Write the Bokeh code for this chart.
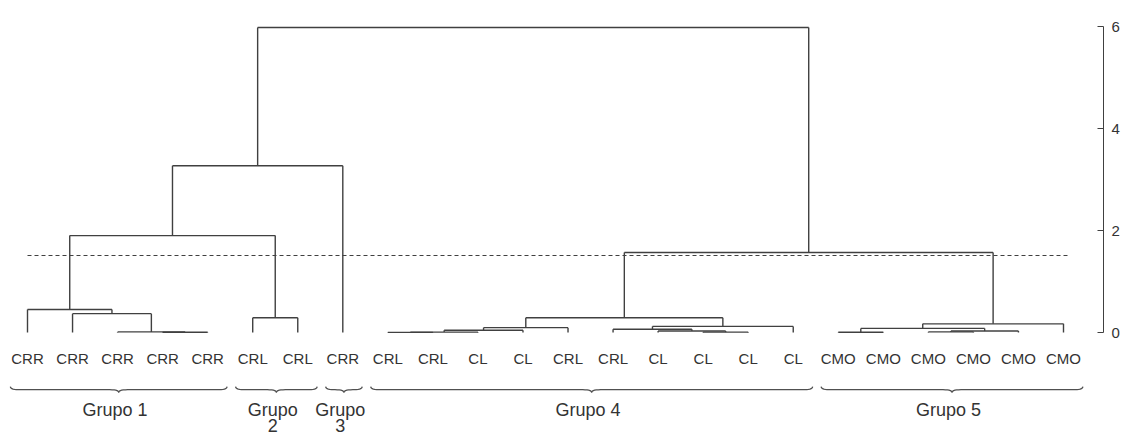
import numpy as np
from bokeh.plotting import figure
from bokeh.models import Range1d, FixedTicker
from bokeh.embed import file_html
from bokeh.resources import INLINE
from bokeh.core.properties import value

# ---------------- data ----------------
leaf_labels = ["CRR", "CRR", "CRR", "CRR", "CRR",
               "CRL", "CRL",
               "CRR",
               "CRL", "CRL", "CL", "CL", "CRL", "CRL", "CL", "CL", "CL", "CL",
               "CMO", "CMO", "CMO", "CMO", "CMO", "CMO"]

# hclust-style merge table: negative = leaf (1-based), positive = earlier merge row
merge_a = [-4, -3, -2, -1, -6, 4, 6, -9, 8, 9, 10, -16, -15, -14, 14, 11, -19, -21, 18, 17, 20, 16, 7]
merge_b = [-5, 1, 2, 3, -7, 5, -8, -10, -11, -12, -13, -17, 12, 13, -18, 15, -20, -22, -23, 19, -24, 21, 22]
merge_h = [0.005, 0.012, 0.37, 0.45, 0.29, 1.90, 3.27,
           0.003, 0.008, 0.045, 0.095,
           0.008, 0.03, 0.065, 0.12, 0.29,
           0.005, 0.012, 0.028, 0.08, 0.17,
           1.57, 5.98]

cut_height = 1.51

group_line1 = ["Grupo 1", "Grupo", "Grupo", "Grupo 4", "Grupo 5"]
group_line2 = ["", "2", "3", "", ""]
group_first = [1, 6, 8, 9, 19]
group_last = [5, 7, 8, 18, 24]

axis_ticks = [0, 2, 4, 6]

# ---------------- tree geometry ----------------
n = len(leaf_labels)
node_x, node_h = {}, {}
x0s, y0s, x1s, y1s = [], [], [], []


def get(ref):
    if ref < 0:
        return float(-ref), 0.0
    return node_x[ref], node_h[ref]


for k, (a, b, h) in enumerate(zip(merge_a, merge_b, merge_h), start=1):
    xa, ha = get(a)
    xb, hb = get(b)
    x0s += [xa, xb, xa]
    y0s += [ha, hb, h]
    x1s += [xa, xb, xb]
    y1s += [h, h, h]
    node_x[k] = (xa + xb) / 2
    node_h[k] = h

# pixel scales used to set ranges
px_x = 45.04
px_y = 51.0
W, H = 1124, 437
FW = 1103

p = figure(width=W, height=H, output_backend="svg", toolbar_location=None,
           x_range=Range1d(1 - 27 / px_x, n + (FW - 1063) / px_x),
           y_range=Range1d(-(H - 332) / px_y, 6 + 26 / px_y),
           x_axis_location=None, y_axis_location="right",
           min_border_left=0, min_border_top=0, min_border_bottom=0,
           min_border_right=W - FW)

p.grid.visible = False
p.outline_line_color = None
p.background_fill_color = "white"
p.border_fill_color = "white"

line_col = "#404040"
text_col = "#333333"

p.segment(x0=x0s, y0=y0s, x1=x1s, y1=y1s, line_color=line_col, line_width=1.4)

# cut line
p.segment(x0=[1], y0=[cut_height], x1=[n + 0.15], y1=[cut_height],
          line_color=line_col, line_width=1.1, line_dash="4 3")

# leaf labels
p.text(x=list(range(1, n + 1)), y=[-0.50] * n, text=leaf_labels,
       text_align="center", text_baseline="middle",
       text_font=value("Liberation Sans"), text_font_size="15px", text_color=text_col)


# braces
def qbez(p0, p1, p2, m=8):
    t = np.linspace(0, 1, m)
    x = (1 - t) ** 2 * p0[0] + 2 * (1 - t) * t * p1[0] + t ** 2 * p2[0]
    y = (1 - t) ** 2 * p0[1] + 2 * (1 - t) * t * p1[1] + t ** 2 * p2[1]
    return list(x), list(y)


y_end, y_mid, y_tip = -1.059, -1.122, -1.176
hook, tip = 8 / px_x, 9 / px_x
bxs, bys, lab_x = [], [], []
for f, l in zip(group_first, group_last):
    xa, xb = f - 0.38, l + 0.43
    xc = (xa + xb) / 2
    xs, ys = [], []
    for seg in [((xa, y_end), (xa, y_mid), (xa + hook, y_mid)),
                ((xc - tip, y_mid), (xc, y_mid), (xc, y_tip)),
                ((xc, y_tip), (xc, y_mid), (xc + tip, y_mid)),
                ((xb - hook, y_mid), (xb, y_mid), (xb, y_end))]:
        sx, sy = qbez(*seg)
        xs += sx
        ys += sy
    bxs.append(xs)
    bys.append(ys)
    lab_x.append(xc - 0.08)

p.multi_line(xs=bxs, ys=bys, line_color="#505050", line_width=1.3)

p.text(x=lab_x, y=[-1.51] * len(lab_x), text=group_line1,
       text_align="center", text_baseline="alphabetic",
       text_font=value("Liberation Sans"), text_font_size="18px", text_color=text_col)

l2_x = [x for x, t in zip(lab_x, group_line2) if t]
l2_t = [t for t in group_line2 if t]
p.text(x=l2_x, y=[-1.83] * len(l2_x), text=l2_t,
       text_align="center", text_baseline="alphabetic",
       text_font=value("Liberation Sans"), text_font_size="18px", text_color=text_col)

# axis
ax = p.yaxis[0]
ax.ticker = FixedTicker(ticks=axis_ticks)
ax.bounds = (0, 6)
ax.major_tick_in = 6
ax.major_tick_out = 0
ax.minor_tick_line_color = None
ax.axis_line_color = line_col
ax.major_tick_line_color = line_col
ax.major_label_standoff = 8
ax.major_label_text_font = "Liberation Sans"
ax.major_label_text_font_size = "15px"
ax.major_label_text_color = text_col

open("out.html", "w").write(file_html(p, INLINE))
